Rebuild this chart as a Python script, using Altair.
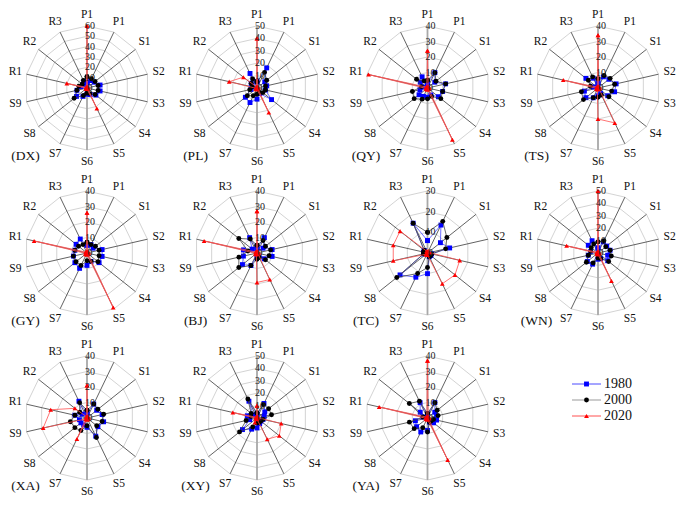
import altair as alt
import pandas as pd

# ---------------- data ----------------
AXES = ["P1", "P1", "S1", "S2", "S3", "S4", "S5", "S6", "S7", "S8", "S9", "R1", "R2", "R3"]
YEARS = ["1980", "2000", "2020"]
CITIES = ["DX", "PL", "QY", "TS", "GY", "BJ", "TC", "WN", "XA", "XY", "YA"]
MAXV = {"DX": 60, "PL": 50, "QY": 40, "TS": 40, "GY": 40, "BJ": 40,
        "TC": 30, "WN": 50, "XA": 40, "XY": 50, "YA": 40}

DX = {"1980": [5, 8, 9, 13, 13, 11, 7, 6, 9, 13, 10, 6, 5, 7],
      "2000": [11, 10, 10, 11, 11, 10, 6, 5, 8, 16, 10, 8, 6, 8],
      "2020": [60, 1, 1, 1, 1, 1, 22, 1, 1, 1, 1, 20, 1, 1]}
PL = {"1980": [5, 18, 8, 8, 7, 15, 5, 9, 13, 12, 5, 4, 6, 13],
      "2000": [5, 14, 10, 7, 7, 6, 4, 5, 7, 10, 6, 4, 6, 8],
      "2020": [40, 1, 1, 1, 1, 1, 22, 1, 1, 1, 1, 23, 14, 1]}
QY = {"1980": [3, 11, 6, 12, 10, 9, 5, 6, 6, 7, 5, 3, 6, 8],
      "2000": [5, 11, 7, 12, 10, 11, 6, 7, 8, 11, 10, 4, 9, 5],
      "2020": [24, 1, 1, 1, 1, 1, 37, 1, 1, 1, 1, 39, 1, 1]}
TS = {"1980": [3, 8, 9, 12, 11, 8, 4, 5, 7, 10, 9, 3, 10, 7],
      "2000": [6, 9, 10, 11, 9, 9, 5, 6, 7, 12, 11, 5, 8, 8],
      "2020": [34, 1, 1, 1, 1, 1, 25, 20, 1, 1, 1, 23, 1, 1]}
GY = {"1980": [5, 6, 5, 10, 10, 10, 6, 8, 11, 10, 9, 8, 9, 10],
      "2000": [7, 6, 7, 8, 8, 9, 6, 5, 9, 9, 9, 8, 7, 6],
      "2020": [26, 1, 1, 1, 1, 1, 39, 1, 1, 1, 1, 35, 1, 1]}
BJ = {"1980": [3, 11, 5, 10, 10, 6, 3, 2, 9, 12, 9, 9, 4, 11],
      "2000": [5, 9, 7, 9, 8, 7, 3, 4, 9, 15, 12, 6, 15, 10],
      "2020": [27, 1, 1, 1, 1, 1, 19, 19, 1, 1, 1, 35, 1, 1]}
TC = {"1980": [6, 15, 8, 11, 2, 2, 2, 10, 13, 17, 2, 2, 2, 16],
      "2000": [10, 17, 12, 9, 2, 2, 2, 7, 11, 19, 2, 2, 2, 16],
      "2020": [0.5, 1, 1, 1, 16, 17, 16.5, 1, 1, 1, 17, 17, 17, 1]}
WN = {"1980": [4, 10, 9, 10, 8, 10, 5, 5, 10, 11, 8, 6, 10, 11],
      "2000": [9, 11, 8, 10, 11, 11, 5, 4, 9, 12, 8, 6, 7, 8],
      "2020": [50, 1, 1, 1, 1, 1, 25, 1, 1, 1, 1, 26, 1, 1]}
XA = {"1980": [3, 10, 8, 10, 11, 9, 13, 6, 5, 5, 5, 8, 4, 12],
      "2000": [5, 10, 9, 11, 10, 8, 14, 5, 9, 10, 11, 8, 6, 11],
      "2020": [21, 1, 1, 1, 1, 1, 1, 1, 15, 1, 29, 24, 10, 1]}
XY = {"1980": [3, 13, 8, 6, 5, 4, 5, 8, 10, 15, 6, 8, 4, 15],
      "2000": [4, 12, 12, 12, 5, 4, 4, 4, 8, 18, 9, 5, 6, 17],
      "2020": [10, 1, 1, 1, 20, 23, 19, 1, 4, 1, 1, 20, 1, 1]}
YA = {"1980": [2, 11, 6, 6, 6, 5, 3, 8, 10, 9, 8, 3, 6, 11],
      "2000": [3, 11, 8, 7, 4, 3, 3, 9, 7, 11, 12, 3, 15, 12],
      "2020": [37, 1, 1, 1, 1, 1, 30, 1, 1, 1, 1, 32, 1, 1]}
VALUES = {"DX": DX, "PL": PL, "QY": QY, "TS": TS, "GY": GY, "BJ": BJ,
          "TC": TC, "WN": WN, "XA": XA, "XY": XY, "YA": YA}

# ---------------- layout / style ----------------
COL_X = [87, 257, 427.5, 598]
ROW_Y = [88, 253, 418]
R = 62          # radius (px) of the outer ring
LR = 73.5       # radius (px) of the axis labels
N = len(AXES)
FONT = "Liberation Serif, Times New Roman, serif"
COLORS = {"1980": "#0000ff", "2000": "#000000", "2020": "#ff0000"}
LINECOL = {"1980": "#4a4aff", "2000": "#444444", "2020": "#ff5050"}
LEGLINE = {"1980": "#4a4aff", "2000": "#999999", "2020": "#ff5050"}
SHAPES = {"1980": "square", "2000": "circle", "2020": "triangle-up"}
LEG_X0, LEG_X1, LEG_Y0, LEG_DY = 572, 601, 384, 16


def center(i):
    return COL_X[i % 4], ROW_Y[i // 4]


series_rows, ring_rows, spoke_rows, tick_rows, lab_rows, name_rows = [], [], [], [], [], []
for ci, c in enumerate(CITIES):
    cx, cy = center(ci)
    m = MAXV[c]
    for y in YEARS:
        vals = VALUES[c][y]
        for k in range(N + 1):
            series_rows.append(dict(city=c, year=y, idx=k % N, ord=k, value=vals[k % N],
                                    cx=cx, cy=cy, maxv=m))
    for ring in range(10, m + 1, 10):
        for k in range(N + 1):
            ring_rows.append(dict(key=f"{c}-{ring}", idx=k % N, ord=k, value=ring,
                                  cx=cx, cy=cy, maxv=m))
    for a in range(N):
        vert = a in (0, 7)
        for v in (0, m):
            spoke_rows.append(dict(key=f"{c}-{a}", idx=a, ord=v, value=v, cx=cx, cy=cy,
                                   maxv=m, vert="v" if vert else "o"))
        lab_rows.append(dict(idx=a, label=AXES[a], cx=cx, cy=cy))
    for v in range(0, m + 1, 10):
        tick_rows.append(dict(label=str(v), idx=0, value=v, cx=cx, cy=cy, maxv=m))
    name_rows.append(dict(label=f"({c})", cx=cx, cy=cy))

series_df = pd.DataFrame(series_rows)
ring_df = pd.DataFrame(ring_rows)
spoke_df = pd.DataFrame(spoke_rows)
tick_df = pd.DataFrame(tick_rows)
lab_df = pd.DataFrame(lab_rows)
name_df = pd.DataFrame(name_rows)

W, H = 669, 490
X = alt.X("px:Q", scale=alt.Scale(domain=[8, 8 + W]), axis=None)
Y = alt.Y("py:Q", scale=alt.Scale(domain=[8, 8 + H], reverse=True), axis=None)
ANG = f"datum.idx * 2 * PI / {N}"
PX = f"datum.cx + datum.value / datum.maxv * {R} * sin({ANG})"
PY = f"datum.cy - datum.value / datum.maxv * {R} * cos({ANG})"

rings = alt.Chart(ring_df).mark_line(color="#c8c8c8", strokeWidth=0.8).transform_calculate(
    px=PX, py=PY).encode(x=X, y=Y, order="ord:Q", detail="key:N")

spokes_o = alt.Chart(spoke_df).transform_filter("datum.vert == 'o'").mark_line(
    color="#3a3a3a", strokeWidth=0.8).transform_calculate(px=PX, py=PY).encode(
    x=X, y=Y, order="ord:Q", detail="key:N")
spokes_v = alt.Chart(spoke_df).transform_filter("datum.vert == 'v'").mark_line(
    color="#a8a8a8", strokeWidth=1.8).transform_calculate(px=PX, py=PY).encode(
    x=X, y=Y, order="ord:Q", detail="key:N")

layers = [rings, spokes_o, spokes_v]

ticks = alt.Chart(tick_df).mark_text(font=FONT, fontSize=10, dx=3, baseline="middle",
                                     align="center", color="#222222").transform_calculate(
    px=PX, py=PY).encode(x=X, y=Y, text="label:N")

for y in YEARS:
    base = alt.Chart(series_df).transform_filter(f"datum.year == '{y}'").transform_calculate(
        px=PX, py=PY)
    layers.append(base.mark_line(color=LINECOL[y], strokeWidth=0.8).encode(
        x=X, y=Y, order="ord:Q", detail="city:N"))
    layers.append(base.mark_point(shape=SHAPES[y], filled=True, opacity=1, color=COLORS[y],
                                  size=24 if y != "2020" else 22).encode(x=X, y=Y))

layers.append(ticks)

labels = alt.Chart(lab_df).mark_text(font=FONT, fontSize=11.5, baseline="middle",
                                     align="center", color="#111111").transform_calculate(
    px=f"datum.cx + {LR} * sin({ANG})", py=f"datum.cy - {LR} * cos({ANG})").encode(
    x=X, y=Y, text="label:N")
layers.append(labels)

names = alt.Chart(name_df).mark_text(font=FONT, fontSize=13.5, baseline="middle",
                                     align="center", color="#111111").transform_calculate(
    px="datum.cx - 61.5", py="datum.cy + 68").encode(x=X, y=Y, text="label:N")
layers.append(names)

# legend
leg_rows = []
for i, y in enumerate(YEARS):
    leg_rows.append(dict(year=y, ord=0, px=LEG_X0, py=LEG_Y0 + i * LEG_DY))
    leg_rows.append(dict(year=y, ord=1, px=LEG_X1, py=LEG_Y0 + i * LEG_DY))
leg_df = pd.DataFrame(leg_rows)
for y in YEARS:
    lb = alt.Chart(leg_df).transform_filter(f"datum.year == '{y}'")
    layers.append(lb.mark_line(color=LEGLINE[y], strokeWidth=1).encode(
        x=X, y=Y, order="ord:Q"))
    layers.append(lb.transform_aggregate(px="mean(px)", py="mean(py)", groupby=["year"]).mark_point(
        shape=SHAPES[y], filled=True, opacity=1, color=COLORS[y], size=24).encode(x=X, y=Y))
leg_txt = alt.Chart(leg_df).transform_filter("datum.ord == 1").transform_calculate(
    px="datum.px + 3").mark_text(font=FONT, fontSize=14, align="left", baseline="middle",
                                 color="#111111").encode(x=X, y=Y, text="year:N")
layers.append(leg_txt)

chart = alt.layer(*layers).properties(
    width=W, height=H, autosize=alt.AutoSizeParams(type="none"), padding=0
).configure_view(stroke=None)

chart.save("out.html", embed_options={"renderer": "svg", "actions": False})
